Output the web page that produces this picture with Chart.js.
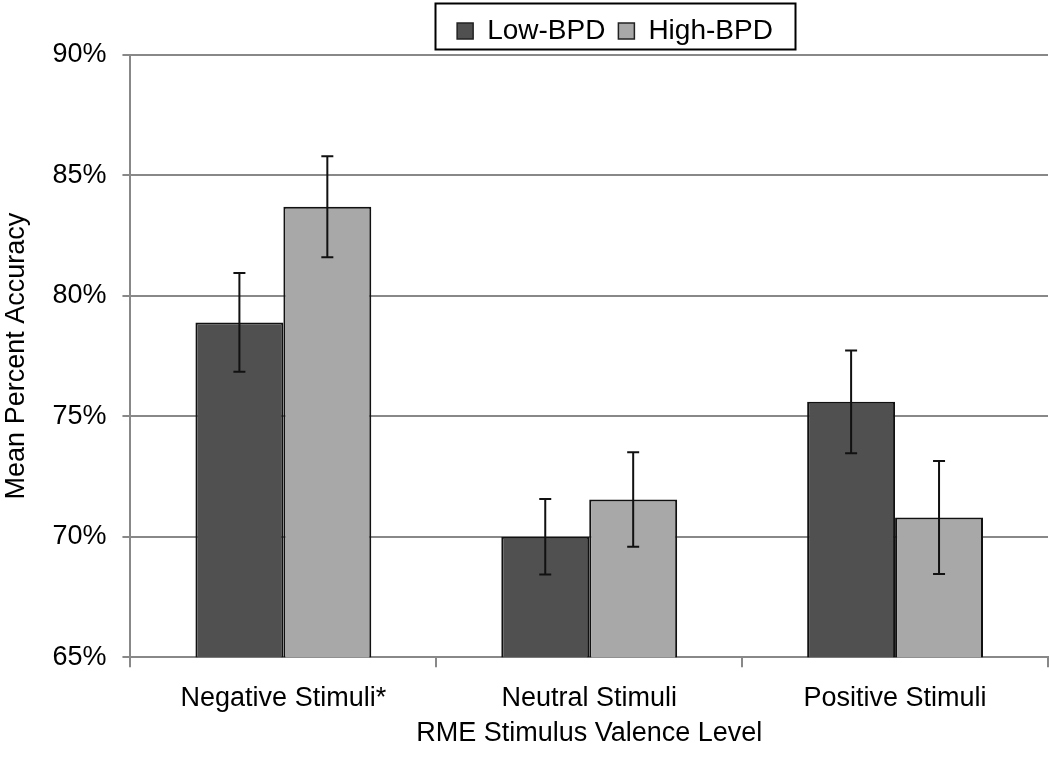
<!DOCTYPE html>
<html>
<head>
<meta charset="utf-8">
<script src="https://cdn.jsdelivr.net/npm/chart.js@4"></script>
<style>
html,body{margin:0;padding:0;background:#fff;}
#wrap{width:1050px;height:760px;}
</style>
</head>
<body>
<div id="wrap"><canvas id="c" width="1050" height="760"></canvas></div>
<script>
const categories = ["Negative Stimuli*", "Neutral Stimuli", "Positive Stimuli"];
const seriesNames = ["Low-BPD", "High-BPD"];
const lowBPD = [78.9, 70.0, 75.6];
const highBPD = [83.7, 71.55, 70.8];
const lowErr = [2.05, 1.57, 2.13];
const highErr = [2.1, 1.96, 2.35];
const yTicks = [65, 70, 75, 80, 85, 90];

const FONT = "'Liberation Sans', Arial, sans-serif";
const LEGEND_CENTER = 615;

const errorBars = {
  id: 'errorBars',
  afterDatasetsDraw(chart) {
    const ctx = chart.ctx;
    const y = chart.scales.y;
    chart.data.datasets.forEach((ds, i) => {
      const meta = chart.getDatasetMeta(i);
      meta.data.forEach((bar, j) => {
        const v = ds.data[j], e = ds.errors[j];
        const yt = y.getPixelForValue(v + e);
        const yb = y.getPixelForValue(v - e);
        ctx.save();
        ctx.strokeStyle = '#111';
        ctx.lineWidth = 2;
        ctx.beginPath();
        ctx.moveTo(bar.x, yt); ctx.lineTo(bar.x, yb);
        ctx.moveTo(bar.x - 6, yt); ctx.lineTo(bar.x + 6, yt);
        ctx.moveTo(bar.x - 6, yb); ctx.lineTo(bar.x + 6, yb);
        ctx.stroke();
        ctx.restore();
      });
    });
  }
};

const legendShift = {
  id: 'legendShift',
  afterLayout(chart) {
    const lg = chart.legend;
    lg.left = 2 * LEGEND_CENTER - lg.right;
    if (typeof lg.adjustHitBoxes === 'function') lg.adjustHitBoxes();
  }
};

const legendBox = {
  id: 'legendBox',
  afterDraw(chart) {
    const boxes = chart.legend.legendHitBoxes;
    if (!boxes || !boxes.length) return;
    let l = Infinity, r = -Infinity;
    boxes.forEach(h => { l = Math.min(l, h.left); r = Math.max(r, h.left + h.width); });
    const ctx = chart.ctx;
    ctx.save();
    ctx.strokeStyle = '#000';
    ctx.lineWidth = 2;
    ctx.strokeRect(Math.round(l - 22) + 0.5, 3.5, Math.round(r - l + 44), 46);
    ctx.restore();
  }
};

new Chart(document.getElementById('c'), {
  type: 'bar',
  data: {
    labels: categories,
    datasets: [
      { label: seriesNames[0], data: lowBPD, errors: lowErr, backgroundColor: '#505050', borderColor: '#111', borderWidth: 2, borderSkipped: 'bottom' },
      { label: seriesNames[1], data: highBPD, errors: highErr, backgroundColor: '#a8a8a8', borderColor: '#111', borderWidth: 2, borderSkipped: 'bottom' }
    ]
  },
  options: {
    responsive: false,
    animation: false,
    devicePixelRatio: 1,
    layout: { padding: { top: 4, right: 2, left: 0, bottom: 10 } },
    datasets: { bar: { barPercentage: 1.0, categoryPercentage: 0.575 } },
    plugins: {
      tooltip: { enabled: false },
      legend: {
        position: 'top',
        labels: {
          font: { family: FONT, size: 28 },
          color: '#000',
          boxWidth: 16,
          boxHeight: 16,
          padding: 13,
          generateLabels(chart) {
            return chart.data.datasets.map((ds, i) => ({
              text: ds.label, fillStyle: ds.backgroundColor, strokeStyle: '#222', lineWidth: 1.5, datasetIndex: i
            }));
          }
        }
      }
    },
    scales: {
      x: {
        grid: { display: true, drawOnChartArea: false, offset: true, tickLength: 10, color: '#888', lineWidth: 2 },
        border: { color: '#888', width: 2 },
        ticks: { font: { family: FONT, size: 27 }, color: '#000', padding: 15 },
        title: { display: true, text: 'RME Stimulus Valence Level', font: { family: FONT, size: 27 }, color: '#000', padding: { top: -12, bottom: 0 } }
      },
      y: {
        min: 65, max: 90,
        afterBuildTicks(axis) { axis.ticks = yTicks.map(v => ({ value: v })); },
        grid: { color: '#888', lineWidth: 2, tickLength: 8 },
        border: { color: '#888', width: 2 },
        ticks: { font: { family: FONT, size: 27 }, color: '#000', padding: 16, callback: v => v + '%' },
        title: { display: true, text: 'Mean Percent Accuracy', font: { family: FONT, size: 27 }, color: '#000', padding: { top: 0, bottom: 4 } }
      }
    }
  },
  plugins: [legendShift, errorBars, legendBox]
});
</script>
</body>
</html>
